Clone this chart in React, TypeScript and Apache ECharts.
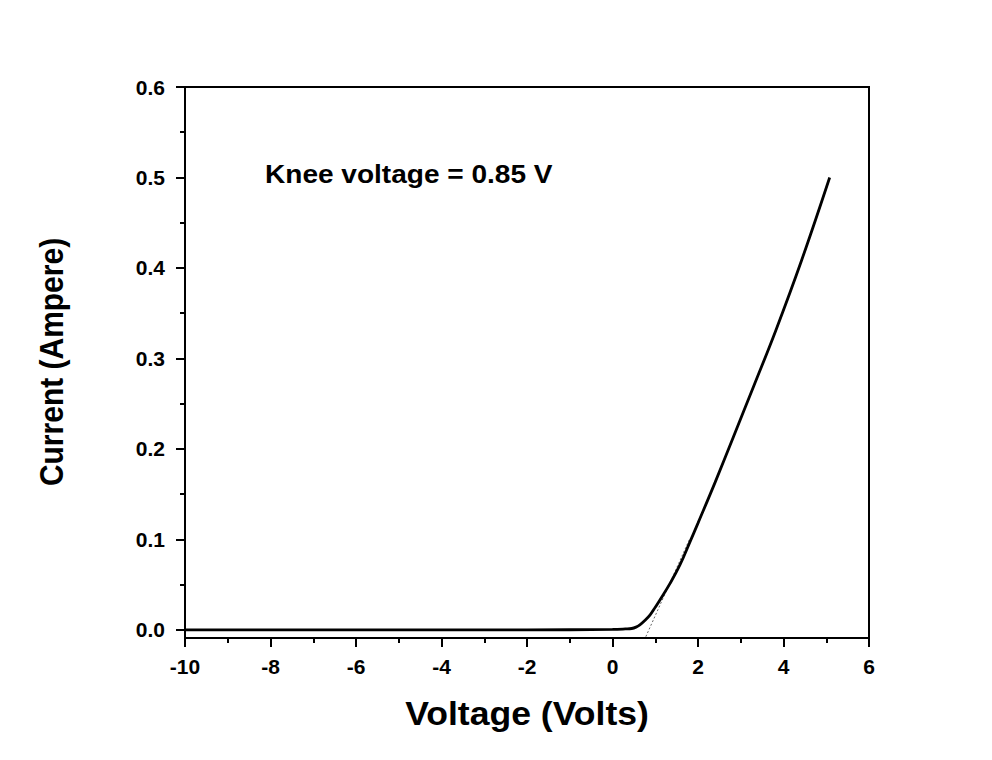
import React, { useEffect, useRef } from "react";
import * as echarts from "echarts";

// Forward/reverse I–V characteristic of a diode
const voltage = [-10, -6, -2, 0, 0.3, 0.45, 0.55, 0.64, 0.75, 0.88, 1.0, 1.11, 1.35, 1.58, 1.81, 2.0, 2.4, 2.83, 3.3, 3.82, 4.42, 5.08];
const current = [0, 0, 0, 0.0005, 0.001, 0.0015, 0.003, 0.0055, 0.01, 0.0166, 0.025, 0.033, 0.0516, 0.072, 0.097, 0.118, 0.163, 0.2135, 0.269, 0.331, 0.408, 0.5];

// Tangent extrapolated to the voltage axis
const tangentVoltage = [0.78, 1.8];
const tangentCurrent = [-0.0075, 0.1];

const yMajorTicks = [0, 0.1, 0.2, 0.3, 0.4, 0.5, 0.6];
const yMinorTicks = [0.05, 0.15, 0.25, 0.35, 0.45, 0.55];

const xTitle = "Voltage (Volts)";
const yTitle = "Current (Ampere)";
const kneeNote = "Knee voltage = 0.85 V";

const FONT = "'Liberation Sans', Arial, sans-serif";

export default function App() {
  const ref = useRef<HTMLDivElement>(null);

  useEffect(() => {
    if (!ref.current) return;
    document.body.style.margin = "0";
    const chart = echarts.init(ref.current, undefined, { renderer: "svg" });
    const yRange = { min: -0.009, max: 0.6 };
    chart.setOption({
      animation: false,
      backgroundColor: "#ffffff",
      grid: {
        left: 185,
        right: 123,
        top: 87,
        bottom: 122,
        show: true,
        borderColor: "#000",
        borderWidth: 2,
      },
      xAxis: {
        type: "value",
        min: -10,
        max: 6,
        interval: 2,
        axisLine: { show: true, onZero: false, lineStyle: { color: "#000", width: 2 } },
        axisTick: { show: true, inside: false, length: 9, lineStyle: { color: "#000", width: 2 } },
        minorTick: { show: true, splitNumber: 2, length: 5, lineStyle: { color: "#000", width: 2 } },
        splitLine: { show: false },
        minorSplitLine: { show: false },
        axisLabel: {
          color: "#000",
          fontFamily: FONT,
          fontWeight: "bold",
          fontSize: 21,
          margin: 18,
        },
      },
      yAxis: [
        {
          type: "value",
          ...yRange,
          axisLine: { show: true, onZero: false, lineStyle: { color: "#000", width: 2 } },
          axisTick: {
            show: true,
            inside: false,
            length: 9,
            customValues: yMajorTicks,
            lineStyle: { color: "#000", width: 2 },
          },
          splitLine: { show: false },
          axisLabel: {
            customValues: yMajorTicks,
            formatter: (v: number) => v.toFixed(1),
            color: "#000",
            fontFamily: FONT,
            fontWeight: "bold",
            fontSize: 21,
            margin: 20,
          },
        },
        {
          type: "value",
          position: "left",
          ...yRange,
          axisLine: { show: false, onZero: false },
          axisTick: {
            show: true,
            inside: false,
            length: 5,
            customValues: yMinorTicks,
            lineStyle: { color: "#000", width: 2 },
          },
          axisLabel: { show: false },
          splitLine: { show: false },
        },
      ],
      series: [
        {
          type: "line",
          data: tangentVoltage.map((v, i) => [v, tangentCurrent[i]]),
          showSymbol: false,
          symbol: "none",
          lineStyle: { color: "#666", width: 1, type: [2, 2] },
          z: 2,
        },
        {
          type: "line",
          data: voltage.map((v, i) => [v, current[i]]),
          smooth: 0.4,
          showSymbol: false,
          symbol: "none",
          lineStyle: { color: "#000", width: 2.8 },
          z: 3,
        },
      ],
      graphic: [
        {
          type: "text",
          x: 265,
          y: 174,
          scaleX: 1.1,
          style: {
            text: kneeNote,
            fill: "#000",
            font: `bold 25.5px ${FONT}`,
            align: "left",
            verticalAlign: "middle",
          },
        },
        {
          type: "text",
          x: 527,
          y: 714,
          scaleX: 1.095,
          style: {
            text: xTitle,
            fill: "#000",
            font: `bold 32.5px ${FONT}`,
            align: "center",
            verticalAlign: "middle",
          },
        },
        {
          type: "text",
          x: 52,
          y: 362,
          rotation: Math.PI / 2,
          scaleY: 1.095,
          style: {
            text: yTitle,
            fill: "#000",
            font: `bold 30px ${FONT}`,
            align: "center",
            verticalAlign: "middle",
          },
        },
      ],
    });
    return () => chart.dispose();
  }, []);

  return <div ref={ref} style={{ width: 992, height: 760 }} />;
}
